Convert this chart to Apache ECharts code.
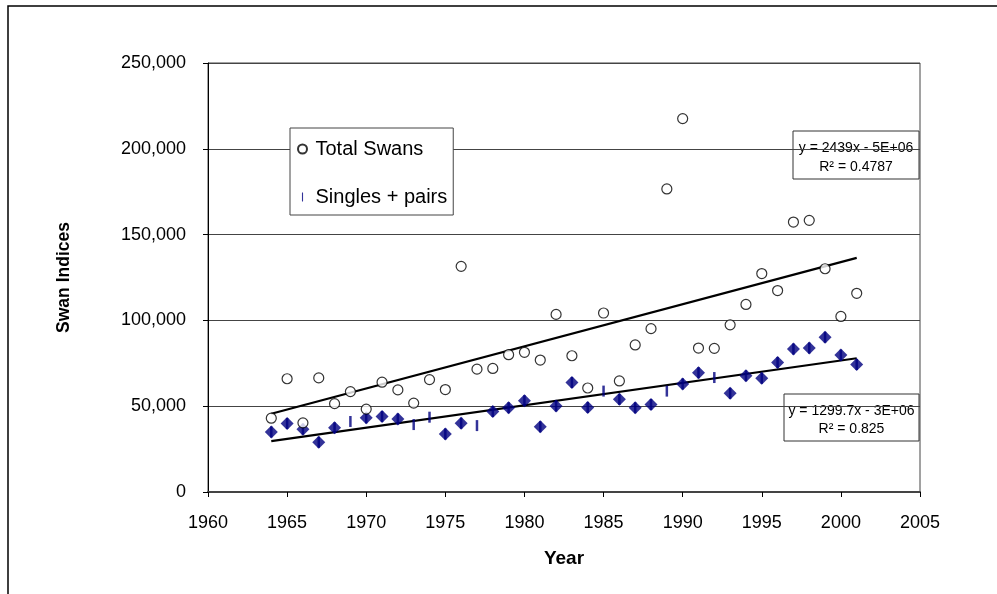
<!DOCTYPE html>
<html>
<head>
<meta charset="utf-8">
<title>Swan Indices</title>
<script src="https://cdn.jsdelivr.net/npm/echarts@6/dist/echarts.min.js"></script>
<style>
html, body { margin: 0; padding: 0; background: #fff; }
#mychart { width: 997px; height: 594px; }
</style>
</head>
<body>
<div id="mychart"></div>
<script>
var years = [1964, 1965, 1966, 1967, 1968, 1969, 1970, 1971, 1972, 1973,
    1974, 1975, 1976, 1977, 1978, 1979, 1980, 1981, 1982, 1983,
    1984, 1985, 1986, 1987, 1988, 1989, 1990, 1991, 1992, 1993,
    1994, 1995, 1996, 1997, 1998, 1999, 2000, 2001];
var totalSwans = [43000, 66000, 40300, 66500, 51500, 58500, 48300, 64000, 59500, 51800,
    65500, 59700, 131500, 71600, 72000, 80000, 81400, 76900, 103500, 79400,
    60600, 104300, 64700, 85700, 95200, 176600, 217600, 83900, 83700, 97400,
    109300, 127300, 117400, 157300, 158300, 130100, 102300, 115800];
var singlesPairs = [35000, 39900, 36600, 29000, 37400, 41100, 43200, 44000, 42600, 39300,
    43600, 33800, 40100, 38700, 46900, 49100, 53200, 38000, 50100, 63800,
    49300, 58800, 54000, 49100, 51000, 58800, 63000, 69500, 66700, 57500,
    67700, 66300, 75500, 83300, 83900, 90200, 79800, 74300];
// 这些年份只有短竖线标记，没有菱形
var dashOnlyYears = [1969, 1973, 1974, 1977, 1985, 1989, 1992];
var xTicks = [1960, 1965, 1970, 1975, 1980, 1985, 1990, 1995, 2000, 2005];
var yTicks = [0, 50000, 100000, 150000, 200000, 250000];
var fitLabels = [
    ['y = 2439x - 5E+06', 'R\u00b2 = 0.4787'],
    ['y = 1299.7x - 3E+06', 'R\u00b2 = 0.825']
];

var FONT = '"Liberation Sans", Arial, sans-serif';

function toPoints(xs, ys) {
    var arr = [];
    xs.forEach(function (v, i) {
        arr.push([v, ys[i]]);
    });
    return arr;
}

//最小二乘趋势线
function trendLine(xs, ys) {
    var n = xs.length, sx = 0, sy = 0, sxx = 0, sxy = 0;
    for (var i = 0; i < n; i++) {
        sx += xs[i]; sy += ys[i];
        sxx += xs[i] * xs[i]; sxy += xs[i] * ys[i];
    }
    var b = (n * sxy - sx * sy) / (n * sxx - sx * sx);
    var a = (sy - b * sx) / n;
    var x0 = xs[0], x1 = xs[n - 1];
    return [[x0, a + b * x0], [x1, a + b * x1]];
}

var diamondData = [];
years.forEach(function (y, i) {
    if (dashOnlyYears.indexOf(y) < 0) {
        diamondData.push([y, singlesPairs[i]]);
    }
});

function fitBox(x, y, w, h, lines) {
    return {
        type: 'group',
        children: [
            {
                type: 'rect',
                shape: { x: x, y: y, width: w, height: h },
                style: { fill: '#fff', stroke: '#333', lineWidth: 1 }
            },
            {
                type: 'text',
                x: x + w / 2, y: y + h * 0.36,
                style: { text: lines[0], fill: '#000', font: '14px ' + FONT, align: 'center', verticalAlign: 'middle' }
            },
            {
                type: 'text',
                x: x + w / 2, y: y + h * 0.75,
                style: { text: lines[1], fill: '#000', font: '14px ' + FONT, align: 'center', verticalAlign: 'middle' }
            }
        ]
    };
}

var myChart = echarts.init(document.getElementById('mychart'));
myChart.setOption({
    animation: false,
    backgroundColor: '#fff',
    textStyle: { fontFamily: FONT, color: '#000' },
    grid: {
        left: 208,
        right: 77,
        top: 63,
        bottom: 102,
        show: true,
        borderColor: '#444',
        borderWidth: 1
    },
    legend: {
        orient: 'vertical',
        left: 290,
        top: 128,
        padding: [11, 6, 8, 7],
        itemGap: 28,
        itemWidth: 16,
        itemHeight: 9,
        backgroundColor: '#fff',
        borderColor: '#444',
        borderWidth: 1,
        textStyle: { fontSize: 20, color: '#000', fontFamily: FONT },
        data: [
            { name: 'Total Swans', icon: 'circle' },
            { name: 'Singles + pairs', icon: 'path://M0,0h1v8h-1z' }
        ]
    },
    xAxis: {
        type: 'value',
        min: xTicks[0],
        max: xTicks[xTicks.length - 1],
        interval: xTicks[1] - xTicks[0],
        name: 'Year',
        nameLocation: 'middle',
        nameGap: 57,
        nameTextStyle: { fontSize: 19, fontWeight: 'bold', color: '#000' },
        axisLine: { show: true, lineStyle: { color: '#444', width: 2 } },
        axisTick: { show: true, inside: false, length: 5, lineStyle: { color: '#000' } },
        axisLabel: {
            fontSize: 18,
            color: '#000',
            margin: 22,
            formatter: function (v) {
                return String(v);
            }
        },
        splitLine: { show: false }
    },
    yAxis: {
        type: 'value',
        min: yTicks[0],
        max: yTicks[yTicks.length - 1],
        interval: yTicks[1] - yTicks[0],
        name: 'Swan Indices',
        nameLocation: 'middle',
        nameGap: 135,
        nameTextStyle: { fontSize: 17.5, fontWeight: 'bold', color: '#000' },
        axisLine: { show: true, lineStyle: { color: '#000', width: 1 } },
        axisTick: { show: true, inside: false, length: 5, lineStyle: { color: '#000' } },
        axisLabel: {
            fontSize: 18,
            color: '#000',
            margin: 22,
            formatter: function (v) {
                return v.toString().replace(/\B(?=(\d{3})+(?!\d))/g, ',');
            }
        },
        splitLine: { show: true, lineStyle: { color: '#444', width: 1 } }
    },
    graphic: [
        {
            type: 'rect',
            shape: { x: 8, y: 6, width: 1100, height: 700 },
            style: { fill: 'none', stroke: '#000', lineWidth: 1.5 },
            silent: true
        },
        fitBox(793, 131, 126, 48, fitLabels[0]),
        fitBox(784, 394, 135, 47, fitLabels[1])
    ],
    series: [
        {
            name: 'Linear (Total Swans)',
            type: 'line',
            data: trendLine(years, totalSwans),
            symbol: 'none',
            lineStyle: { color: '#000', width: 2.2 },
            z: 1
        },
        {
            name: 'Linear (Singles + pairs)',
            type: 'line',
            data: trendLine(years, singlesPairs),
            symbol: 'none',
            lineStyle: { color: '#000', width: 2.2 },
            z: 1
        },
        {
            name: 'Singles + pairs',
            type: 'scatter',
            data: toPoints(years, singlesPairs),
            symbol: 'rect',
            symbolSize: [2.5, 11],
            itemStyle: { color: '#000080' },
            z: 3
        },
        {
            name: 'Singles + pairs (counted)',
            type: 'scatter',
            data: diamondData,
            symbol: 'diamond',
            symbolSize: 13,
            itemStyle: { color: '#000080' },
            z: 4
        },
        {
            name: 'Total Swans',
            type: 'scatter',
            data: toPoints(years, totalSwans),
            symbol: 'circle',
            symbolSize: 10,
            itemStyle: { color: '#fff', borderColor: '#000', borderWidth: 1.2 },
            z: 5
        }
    ]
});
</script>
</body>
</html>
